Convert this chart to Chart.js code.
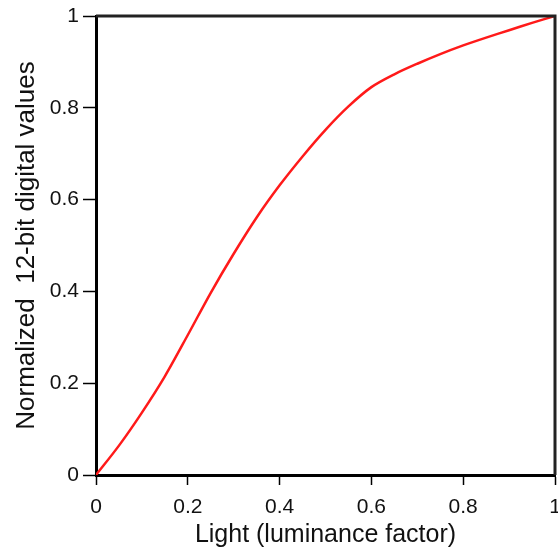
<!DOCTYPE html>
<html>
<head>
<meta charset="utf-8">
<script src="https://cdn.jsdelivr.net/npm/chart.js@4.4.0/dist/chart.umd.min.js"></script>
<style>
  html, body { margin: 0; padding: 0; background: #fff; }
  #wrap { width: 558px; height: 550px; position: relative; }
</style>
</head>
<body>
<div id="wrap"><canvas id="grafico"></canvas></div>
<script>
// Valores (luz -> valor digital normalizado)
const luz = [0, 0.05, 0.1, 0.15, 0.2, 0.25, 0.3, 0.35, 0.4, 0.45, 0.5,
             0.55, 0.6, 0.65, 0.7, 0.75, 0.8, 0.85, 0.9, 0.95, 1];
const valores = [0, 0.064, 0.136, 0.215, 0.305, 0.397, 0.482, 0.561, 0.631, 0.694, 0.752,
                 0.803, 0.845, 0.873, 0.896, 0.917, 0.936, 0.953, 0.969, 0.985, 1];
const ticksX = [0, 0.2, 0.4, 0.6, 0.8, 1];
const ticksY = [0, 0.2, 0.4, 0.6, 0.8, 1];

const fonte = 'Liberation Sans, Arial, Helvetica, sans-serif';

// moldura superior e direita
const moldura = {
    id: 'moldura',
    afterDraw(chart) {
        const a = chart.chartArea;
        const c = chart.ctx;
        c.save();
        c.strokeStyle = '#222';
        c.lineWidth = 3;
        c.beginPath();
        c.moveTo(a.left, a.top);
        c.lineTo(a.right, a.top);
        c.lineTo(a.right, a.bottom);
        c.stroke();
        c.restore();
    }
};

const pontos = luz.map((x, i) => ({ x: x, y: valores[i] }));

new Chart(document.getElementById('grafico'), {
    type: 'scatter',
    data: {
        datasets: [{
            data: pontos,
            showLine: true,
            borderColor: '#ff1a1a',
            borderWidth: 2.5,
            pointRadius: 0,
            tension: 0.3,
            fill: false
        }]
    },
    options: {
        responsive: true,
        maintainAspectRatio: false,
        animation: false,
        layout: { padding: { top: 16, right: 3, left: 0, bottom: 0 } },
        plugins: {
            legend: { display: false },
            tooltip: { enabled: false }
        },
        scales: {
            x: {
                type: 'linear',
                min: 0,
                max: 1,
                afterBuildTicks: s => { s.ticks = ticksX.map(v => ({ value: v })); },
                afterFit: s => { s.height = 75; s.paddingRight = 3; s.paddingLeft = 0; },
                grid: { drawOnChartArea: false, drawTicks: true, tickLength: 10, color: '#000', tickWidth: 1.5 },
                border: { color: '#000', width: 3 },
                ticks: {
                    padding: 10,
                    color: '#111',
                    font: { family: fonte, size: 21 },
                    callback: v => String(v)
                },
                title: {
                    display: true,
                    text: 'Light (luminance factor)',
                    color: '#111',
                    font: { family: fonte, size: 25 },
                    padding: { top: 0, bottom: 0 }
                }
            },
            y: {
                type: 'linear',
                min: 0,
                max: 1,
                afterBuildTicks: s => { s.ticks = ticksY.map(v => ({ value: v })); },
                afterFit: s => { s.width = 96; s.paddingTop = 0; s.paddingBottom = 0; },
                grid: { drawOnChartArea: false, drawTicks: true, tickLength: 13, color: '#000', tickWidth: 1.5 },
                border: { color: '#000', width: 3 },
                ticks: {
                    padding: 4,
                    color: '#111',
                    font: { family: fonte, size: 21 },
                    callback: v => String(v)
                },
                title: {
                    display: true,
                    text: 'Normalized  12-bit digital values',
                    color: '#111',
                    font: { family: fonte, size: 26 },
                    padding: { top: 11, bottom: 0 }
                }
            }
        }
    },
    plugins: [moldura]
});
</script>
</body>
</html>
